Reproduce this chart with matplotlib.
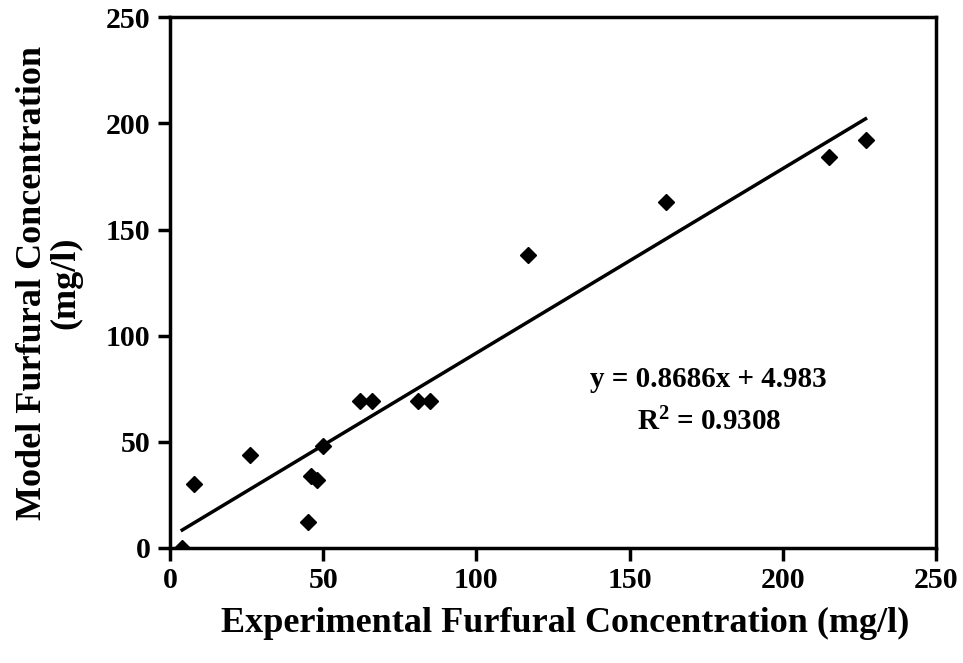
import matplotlib
matplotlib.use("Agg")
import matplotlib.pyplot as plt
import numpy as np

# experimental vs model furfural concentrations (mg/l)
experimental = [4, 8, 26, 45, 46, 48, 50, 62, 66, 81, 85, 117, 162, 215, 227]
model = [0, 30, 44, 12, 34, 32, 48, 69, 69, 69, 69, 138, 163, 184, 192]

slope = 0.8686
intercept = 4.983
r_squared = 0.9308

ticks = [0, 50, 100, 150, 200, 250]

plt.rcParams["font.family"] = ["Liberation Serif", "DejaVu Serif"]
plt.rcParams["font.weight"] = "bold"
plt.rcParams["mathtext.fontset"] = "custom"
plt.rcParams["mathtext.rm"] = "Liberation Serif:bold"
plt.rcParams["mathtext.bf"] = "Liberation Serif:bold"

fig = plt.figure(figsize=(9.63, 6.63), dpi=100)
ax = fig.add_axes([0.1765, 0.1735, 0.7955, 0.8005])

ax.plot(experimental, model, linestyle="none", marker="D", markersize=8.5,
        color="black", zorder=3)

fit_x = np.array([min(experimental), max(experimental)])
ax.plot(fit_x, slope * fit_x + intercept, color="black", linewidth=2.5)

ax.set_xlim(0, 250)
ax.set_ylim(0, 250)
ax.set_xticks(ticks)
ax.set_yticks(ticks)
ax.tick_params(direction="out", length=9, width=2.5, labelsize=21.5, pad=5)
for lbl in ax.get_xticklabels() + ax.get_yticklabels():
    lbl.set_fontweight("bold")
for spine in ax.spines.values():
    spine.set_linewidth(2.5)

ax.set_xlabel("Experimental Furfural Concentration (mg/l)", fontsize=26,
              fontweight="bold")
ax.xaxis.set_label_coords(0.516, -0.112)
ax.set_ylabel("Model Furfural Concentration\n(mg/l)", fontsize=26,
              fontweight="bold", labelpad=17, linespacing=1.0)

# fitted equation and coefficient of determination
ax.text(0.736, 0.427, f"y = {slope}x + {intercept}", transform=fig.transFigure,
        ha="center", va="center", fontsize=21, fontweight="bold")
ax.text(0.737, 0.363, f"$\\mathbf{{R^2}}$ = {r_squared}", transform=fig.transFigure,
        ha="center", va="center", fontsize=21, fontweight="bold")

fig.savefig("out.png", dpi=100)
